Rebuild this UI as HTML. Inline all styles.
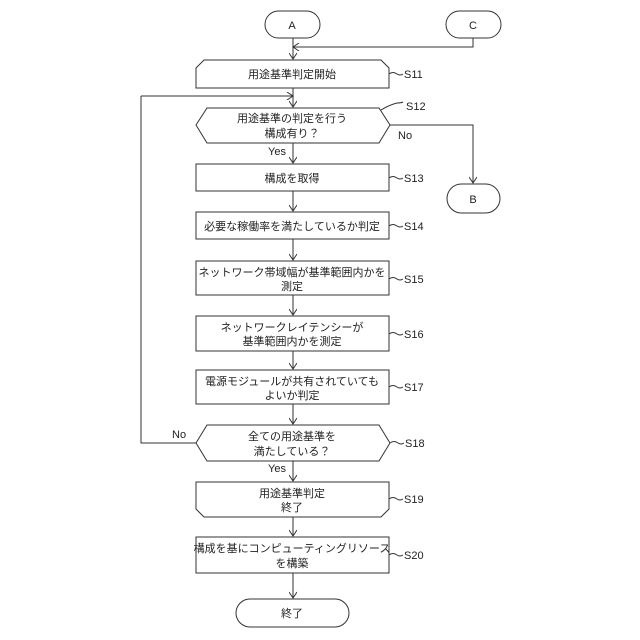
<!DOCTYPE html>
<html><head><meta charset="utf-8"><style>
html,body{margin:0;padding:0;background:#fff}
svg{display:block}
text{font-family:"Liberation Sans","Noto Sans CJK JP",sans-serif;font-size:11px;fill:#222}
</style></head><body>
<svg width="640" height="640" viewBox="0 0 640 640">
<defs><marker id="ar" markerWidth="8" markerHeight="8" refX="7" refY="4" orient="auto" markerUnits="userSpaceOnUse">
<path d="M1,0 L7,4 L1,8" fill="none" stroke="#333" stroke-width="1"/></marker></defs>
<g fill="none" stroke="#333" stroke-width="1">
<rect x="265" y="11" width="55" height="27" rx="13.5" fill="#fff"/>
<rect x="446" y="11" width="55" height="27" rx="13.5" fill="#fff"/>
<rect x="447" y="184" width="53" height="29" rx="14.5" fill="#fff"/>
<rect x="236" y="599" width="113" height="28" rx="14" fill="#fff"/>
<path d="M196,68 L204,60 L381,60 L389,68 L389,88 L196,88 Z"/>
<path d="M196,125 L207,108 L379,108 L390,125 L379,143 L207,143 Z"/>
<rect x="196" y="164" width="193" height="27"/>
<rect x="196" y="212" width="193" height="27"/>
<rect x="196" y="261" width="193" height="34"/>
<rect x="196" y="316" width="193" height="35"/>
<rect x="196" y="370" width="193" height="34"/>
<path d="M196,443 L207,425 L379,425 L390,443 L379,461 L207,461 Z"/>
<path d="M196,482 L389,482 L389,509 L381,517 L204,517 L196,509 Z"/>
<rect x="196" y="537" width="193" height="36"/>
<path d="M293,38 L293,59" marker-end="url(#ar)"/>
<path d="M473,38 L473,47 L293,47" marker-end="url(#ar)"/>
<path d="M293,88 L293,107" marker-end="url(#ar)"/>
<path d="M141,96 L293,96" marker-end="url(#ar)"/>
<path d="M390,125 L473,125 L473,183" marker-end="url(#ar)"/>
<path d="M293,143 L293,163" marker-end="url(#ar)"/>
<path d="M293,191 L293,211" marker-end="url(#ar)"/>
<path d="M293,239 L293,260" marker-end="url(#ar)"/>
<path d="M293,295 L293,315" marker-end="url(#ar)"/>
<path d="M293,351 L293,369" marker-end="url(#ar)"/>
<path d="M293,404 L293,424" marker-end="url(#ar)"/>
<path d="M196,443 L141,443 L141,96"/>
<path d="M293,461 L293,481" marker-end="url(#ar)"/>
<path d="M293,517 L293,536" marker-end="url(#ar)"/>
<path d="M293,573 L293,598" marker-end="url(#ar)"/>
<path d="M389,74 q4,-3 8,0 q3,2 6,0"/>
<path d="M381,110 q8,-5 16,-7 q4,0 6,-1"/>
<path d="M389,178 q4,-3 8,0 q3,2 6,0"/>
<path d="M389,226 q4,-3 8,0 q3,2 6,0"/>
<path d="M389,279 q4,-3 8,0 q3,2 6,0"/>
<path d="M389,334 q4,-3 8,0 q3,2 6,0"/>
<path d="M389,387 q4,-3 8,0 q3,2 6,0"/>
<path d="M390,443 q4,-3 8,0 q3,2 6,0"/>
<path d="M389,499 q4,-3 8,0 q3,2 6,0"/>
<path d="M389,555 q4,-3 8,0 q3,2 6,0"/>
</g>
<g text-anchor="middle">
<text x="292" y="29">A</text>
<text x="473" y="29">C</text>
<text x="473" y="203">B</text>
<text x="292" y="617">終了</text>
<text x="292" y="78">用途基準判定開始</text>
<text x="292" y="122">用途基準の判定を行う</text>
<text x="292" y="137">構成有り？</text>
<text x="292" y="182">構成を取得</text>
<text x="292" y="230">必要な稼働率を満たしているか判定</text>
<text x="292" y="276">ネットワーク帯域幅が基準範囲内かを</text>
<text x="292" y="290">測定</text>
<text x="292" y="331">ネットワークレイテンシーが</text>
<text x="292" y="345">基準範囲内かを測定</text>
<text x="292" y="385">電源モジュールが共有されていても</text>
<text x="292" y="399">よいか判定</text>
<text x="292" y="440">全ての用途基準を</text>
<text x="292" y="455">満たしている？</text>
<text x="292" y="497">用途基準判定</text>
<text x="292" y="511">終了</text>
<text x="292" y="552" font-size="10.3">構成を基にコンピューティングリソース</text>
<text x="292" y="567">を構築</text>
</g>
<g font-size="10">
<text x="404" y="78">S11</text>
<text x="406" y="110">S12</text>
<text x="404" y="182">S13</text>
<text x="404" y="230">S14</text>
<text x="404" y="283">S15</text>
<text x="404" y="338">S16</text>
<text x="404" y="391">S17</text>
<text x="405" y="447">S18</text>
<text x="404" y="503">S19</text>
<text x="404" y="559">S20</text>
<text x="398" y="139">No</text>
<text x="268" y="155">Yes</text>
<text x="172" y="438">No</text>
<text x="268" y="472">Yes</text>
</g>
</svg>
</body></html>
